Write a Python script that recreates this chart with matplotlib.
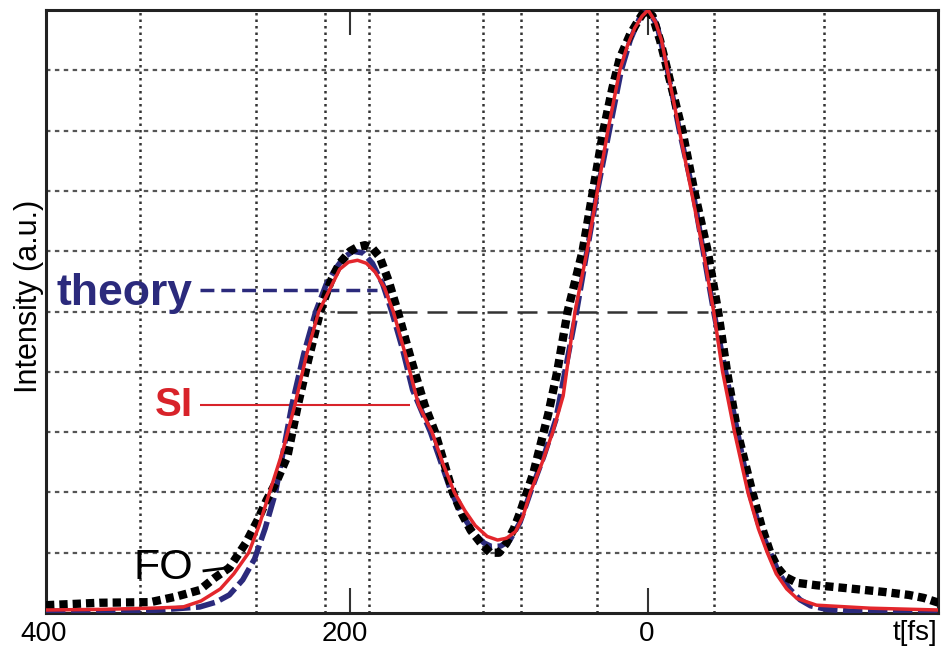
import matplotlib
matplotlib.use("Agg")
import matplotlib.pyplot as plt
import matplotlib.transforms as mtransforms

plt.rcParams['font.family'] = ['Liberation Sans', 'DejaVu Sans']

# delay t [fs] (axis runs from 400 on the left to negative values on the right)
theory_t = [404, 334, 301, 290, 281, 272, 264, 257, 250, 239, 231, 223, 216, 210,
            204, 198, 191, 185, 178, 172, 165, 158, 146, 139, 132, 124, 116, 110,
            105, 99, 93, 86, 79, 70, 62, 55, 48, 41, 34, 26, 18, 12, 6, 0, -6,
            -13, -21, -30, -37, -44, -52, -60, -68, -75, -82, -88, -95, -102,
            -109, -120, -136, -195]
theory_y = [0.003, 0.004, 0.01, 0.018, 0.03, 0.055, 0.09, 0.14, 0.2, 0.345, 0.43,
            0.5, 0.545, 0.57, 0.59, 0.6, 0.597, 0.58, 0.545, 0.5, 0.44, 0.37, 0.3,
            0.25, 0.2, 0.16, 0.13, 0.116, 0.11, 0.111, 0.12, 0.15, 0.2, 0.26, 0.32,
            0.41, 0.5, 0.6, 0.7, 0.8, 0.9, 0.95, 0.985, 1.0, 0.975, 0.9, 0.8, 0.7,
            0.6, 0.5, 0.4, 0.3, 0.2, 0.14, 0.1, 0.065, 0.04, 0.022, 0.012, 0.006,
            0.003, 0.002]

si_t = [404, 368, 334, 312, 300, 287, 278, 268, 261, 254, 245, 237, 229, 221, 215,
        207, 201, 195, 189, 183, 177, 171, 163, 154, 145, 138, 130, 123, 116, 108,
        101, 95, 89, 84, 79, 71, 64, 57, 49, 41, 34, 27, 19, 14, 9, 4, 0, -5, -9,
        -13, -21, -29, -37, -44, -50, -58, -67, -74, -80, -86, -93, -100, -113,
        -149, -195]
si_y = [0.005, 0.006, 0.008, 0.01, 0.02, 0.04, 0.065, 0.1, 0.145, 0.2, 0.27, 0.345,
        0.43, 0.5, 0.53, 0.57, 0.582, 0.585, 0.58, 0.565, 0.54, 0.5, 0.43, 0.345,
        0.3, 0.25, 0.2, 0.17, 0.145, 0.127, 0.121, 0.124, 0.135, 0.16, 0.2, 0.25,
        0.3, 0.36, 0.5, 0.6, 0.7, 0.8, 0.9, 0.94, 0.97, 0.99, 1.0, 0.98, 0.95,
        0.9, 0.8, 0.7, 0.6, 0.5, 0.4, 0.3, 0.2, 0.14, 0.1, 0.065, 0.04, 0.024,
        0.013, 0.008, 0.005]

fo_t = [404, 368, 334, 317, 301, 291, 281, 270, 262, 256, 249, 242, 235, 228, 220,
        213, 207, 200, 195, 190, 185, 180, 174, 168, 159, 150, 143, 137, 131, 125,
        119, 112, 106, 100, 95, 90, 86, 77, 67, 61, 54, 44, 37, 30, 24, 19, 12,
        6, 2, -3, -8, -15, -23, -31, -40, -47, -53, -60, -70, -76, -82, -87, -92,
        -100, -113, -134, -158, -175, -185, -195]
fo_y = [0.013, 0.017, 0.018, 0.027, 0.038, 0.058, 0.075, 0.116, 0.154, 0.187, 0.22,
        0.26, 0.345, 0.42, 0.5, 0.55, 0.58, 0.6, 0.607, 0.61, 0.605, 0.59, 0.55,
        0.5, 0.42, 0.345, 0.3, 0.25, 0.2, 0.165, 0.137, 0.115, 0.1, 0.1, 0.116,
        0.14, 0.166, 0.232, 0.33, 0.4, 0.5, 0.6, 0.7, 0.8, 0.87, 0.92, 0.96, 0.985,
        1.0, 0.99, 0.95, 0.88, 0.8, 0.7, 0.6, 0.5, 0.4, 0.3, 0.2, 0.145, 0.1,
        0.075, 0.06, 0.05, 0.046, 0.041, 0.035, 0.03, 0.025, 0.017]

# hand-drawn grid of the scanned figure
vgrid_t = [341, 263, 217, 187, 111, 85, 34, -44, -118]
hgrid_y = [0.1, 0.2, 0.3, 0.4, 0.6, 0.7, 0.8, 0.9]
tick_t = [400, 200, 0]
tick_labels = ['400', '200', '0']

fig = plt.figure(figsize=(9.45, 6.55), dpi=100)
ax = fig.add_axes([0.0487, 0.0641, 0.944, 0.9206])
ax.set_xlim(404, -194.6)
ax.set_ylim(0, 1)

# grid
for t in vgrid_t:
    ax.axvline(t, color='#333333', lw=1.8, ls=(0, (1, 1.6)), zorder=1)
for y in hgrid_y:
    ax.axhline(y, color='#555555', lw=1.6, ls=(0, (2, 2)), zorder=1)
ax.hlines(0.5, 404, 209, color='#555555', lw=1.6, ls=(0, (2, 2)), zorder=1)
ax.hlines(0.5, -44, -194.6, color='#555555', lw=1.6, ls=(0, (2, 2)), zorder=1)
ax.hlines(0.5, 209, -40, color='#333333', lw=1.8, ls=(0, (8, 4)), zorder=1)

# curves
ax.plot(theory_t, theory_y, color='#2b2a7c', lw=4, ls=(0, (3.5, 1)),
        solid_joinstyle='round', zorder=3)
ax.plot(fo_t, fo_y, color='black', lw=6, ls=(0, (1, 0.6)), zorder=4)
ax.plot(si_t, si_y, color='#e3262c', lw=2.5, solid_joinstyle='round', zorder=5)

# labels with pointer lines
ax.text(0.012, 0.53, 'theory', transform=ax.transAxes, color='#2b2a7c',
        fontsize=32, fontweight='bold', va='center', ha='left')
ax.hlines(0.535, 301, 182, color='#2b2a7c', lw=2.5, ls=(0, (4, 2)), zorder=2)
ax.text(0.122, 0.345, 'SI', transform=ax.transAxes, color='#d8232a',
        fontsize=29, fontweight='bold', va='center', ha='left')
ax.hlines(0.345, 301, 160, color='#d8232a', lw=1.5, zorder=2)
ax.text(0.098, 0.075, 'FO', transform=ax.transAxes, color='black',
        fontsize=31, va='center', ha='left')
ax.plot([298, 282], [0.07, 0.075], color='black', lw=2, zorder=2)

# axes styling
ax.set_xticks(tick_t)
ax.set_xticklabels(tick_labels, fontsize=20)
ax.set_yticks([])
ax.tick_params(axis='x', direction='in', length=18, width=1.5, top=True,
               color='#333333', pad=6)
ax.xaxis.get_major_ticks()[0].tick1line.set_visible(False)
ax.xaxis.get_major_ticks()[0].tick2line.set_visible(False)
# the scanned labels sit a little left of their ticks
for lab, dx in zip(ax.xaxis.get_majorticklabels(), [-8, -5, -1]):
    lab.set_transform(lab.get_transform() +
                      mtransforms.ScaledTranslation(dx / 100, 0, fig.dpi_scale_trans))
for s in ax.spines.values():
    s.set_linewidth(2.2)
    s.set_color('#222222')

fig.text(0.968, 0.033, 't[fs]', fontsize=20, ha='center', va='center')
fig.text(0.031, 0.548, 'Intensity (a.u.)', fontsize=22, rotation=90,
         ha='center', va='center')

fig.savefig('out.png', dpi=100)
